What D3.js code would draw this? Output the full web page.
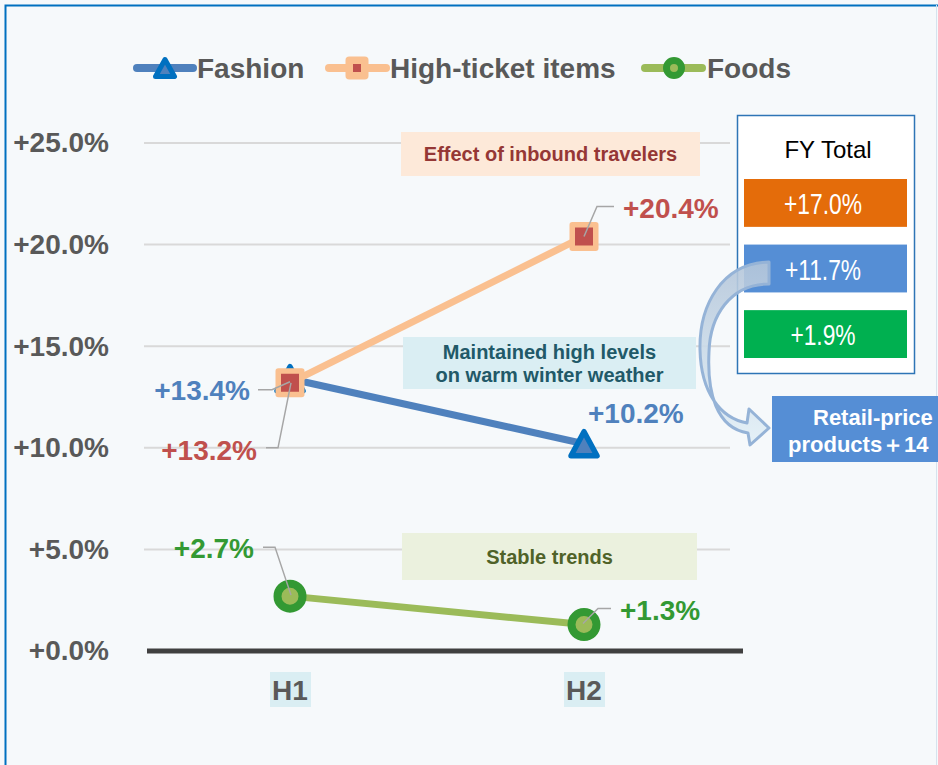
<!DOCTYPE html>
<html>
<head>
<meta charset="utf-8">
<script src="https://cdn.jsdelivr.net/npm/d3@7"></script>
<style>
  body { margin: 0; background: #fff; }
  svg { display: block; }
</style>
</head>
<body>
<div id="chart"></div>
<script>
const periods = ["H1", "H2"];
const fashion = [13.4, 10.2];
const highTicket = [13.2, 20.4];
const foods = [2.7, 1.3];
const yTicks = [0, 5, 10, 15, 20, 25];
const seriesNames = ["Fashion", "High-ticket items", "Foods"];
const fyTotal = [17.0, 11.7, 1.9];
const notes = ["Effect of inbound travelers", "Maintained high levels|on warm winter weather", "Stable trends"];
const retailNote = ["Retail-price", "products\uFF0B14"];

const width = 938, height = 765;
const font = "'Liberation Sans', Arial, sans-serif";
const fmt = d => (d >= 0 ? "+" : "") + d.toFixed(1) + "%";

const y = d3.scaleLinear().domain([0, 25]).range([651, 143]);
const x = d3.scalePoint().domain(periods).range([290, 584]);

const svg = d3.select("#chart").append("svg")
  .attr("width", width)
  .attr("height", height)
  .attr("viewBox", [0, 0, width, height])
  .attr("font-family", font);

// page background and frame
svg.append("rect").attr("width", width).attr("height", height).attr("fill", "#f6f9fb");
svg.append("path").attr("d", "M5.5,765 V5.5 H938").attr("fill", "none").attr("stroke", "#0070c0").attr("stroke-width", 2);
svg.append("line").attr("x1", 936.5).attr("x2", 936.5).attr("y1", 5).attr("y2", 765).attr("stroke", "#d6e3ee").attr("stroke-width", 1);

// gridlines
svg.append("g").selectAll("line")
  .data(yTicks.filter(d => d > 0))
  .join("line")
  .attr("x1", 144).attr("x2", 730)
  .attr("y1", d => y(d)).attr("y2", d => y(d))
  .attr("stroke", "#d9d9d9").attr("stroke-width", 2);

// y axis
const yAxis = g => g
  .attr("transform", "translate(109,0)")
  .call(d3.axisLeft(y).tickValues(yTicks).tickSize(0).tickPadding(0).tickFormat(fmt))
  .call(g => g.select(".domain").remove())
  .attr("font-family", font)
  .call(g => g.selectAll("text")
    .attr("font-size", 28)
    .attr("font-weight", "bold")
    .attr("fill", "#595959"));
svg.append("g").call(yAxis);

// zero line
svg.append("line")
  .attr("x1", 147).attr("x2", 743)
  .attr("y1", y(0)).attr("y2", y(0))
  .attr("stroke", "#404040").attr("stroke-width", 5);

// x labels
const xl = svg.append("g").selectAll("g").data(periods).join("g")
  .attr("transform", d => `translate(${x(d)},690)`);
xl.append("rect").attr("x", -20).attr("y", -18).attr("width", 41).attr("height", 35).attr("fill", "#daeef3");
xl.append("text")
  .attr("text-anchor", "middle").attr("dy", "0.35em")
  .attr("font-size", 28).attr("font-weight", "bold").attr("fill", "#595959")
  .text(d => d);

// annotation boxes
const noteBoxes = [
  {text: notes[0], x: 401, y: 132, w: 299, h: 44, fill: "#fde9d9", color: "#953735"},
  {text: notes[1], x: 403, y: 337, w: 293, h: 52, fill: "#daeef3", color: "#215968"},
  {text: notes[2], x: 402, y: 533, w: 295, h: 47, fill: "#ebf1de", color: "#4f6228"}
];
const nb = svg.append("g").selectAll("g").data(noteBoxes).join("g");
nb.append("rect")
  .attr("x", d => d.x).attr("y", d => d.y).attr("width", d => d.w).attr("height", d => d.h)
  .attr("fill", d => d.fill);
nb.each(function(d) {
  const lines = d.text.split("|");
  const t = d3.select(this).append("text")
    .attr("text-anchor", "middle")
    .attr("font-size", 20).attr("font-weight", "bold").attr("fill", d.color);
  lines.forEach((l, i) => {
    t.append("tspan")
      .attr("x", d.x + d.w / 2)
      .attr("y", d.y + d.h / 2 + 7 + (i - (lines.length - 1) / 2) * 23)
      .text(l);
  });
});

// series
const series = [
  {name: seriesNames[0], values: fashion, line: "#4f81bd", marker: "triangle", fill: "#4f81bd", stroke: "#0070c0", label: "#4f81bd"},
  {name: seriesNames[1], values: highTicket, line: "#fac090", marker: "square", fill: "#c0504d", stroke: "#fac090", label: "#c0504d"},
  {name: seriesNames[2], values: foods, line: "#9bbb59", marker: "circle", fill: "#9bbb59", stroke: "#339933", label: "#339933"}
];

function drawMarker(g, type, fill, stroke, big) {
  if (type === "triangle") {
    const w = big ? 26 : 19, h = big ? 24 : 17;
    g.append("path")
      .attr("d", `M0,${-h / 2}L${w / 2},${h / 2}L${-w / 2},${h / 2}Z`)
      .attr("fill", fill).attr("stroke", stroke)
      .attr("stroke-width", big ? 5.5 : 5).attr("stroke-linejoin", "round");
  } else if (type === "square") {
    const s = big ? 23.5 : 15.5;
    g.append("rect")
      .attr("x", -s / 2).attr("y", -s / 2).attr("width", s).attr("height", s)
      .attr("fill", fill).attr("stroke", stroke)
      .attr("stroke-width", big ? 5.5 : 7.5).attr("stroke-linejoin", "round");
  } else {
    g.append("circle")
      .attr("r", big ? 12.5 : 7.5)
      .attr("fill", fill).attr("stroke", stroke)
      .attr("stroke-width", big ? 8 : 7);
  }
}

const line = d3.line().x((d, i) => x(periods[i])).y(d => y(d));

series.forEach(s => {
  svg.append("path")
    .datum(s.values)
    .attr("fill", "none")
    .attr("stroke", s.line)
    .attr("stroke-width", 7)
    .attr("d", line);
  s.values.forEach((v, i) => {
    const g = svg.append("g").attr("transform", `translate(${x(periods[i])},${y(v)})`);
    drawMarker(g, s.marker, s.fill, s.stroke, true);
  });
});

// data labels with leader lines (offsets relative to the point)
const labelSpecs = [
  {s: 0, i: 0, anchor: "end", dx: -40, dy: 21, leader: [[-32, 11], [-18, 11], [0, 3]]},
  {s: 0, i: 1, anchor: "start", dx: 4, dy: -21, leader: null},
  {s: 1, i: 0, anchor: "end", dx: -33, dy: 77, leader: [[-24, 65], [-12, 65], [1, 0]]},
  {s: 1, i: 1, anchor: "start", dx: 39, dy: -18, leader: [[0, 0], [13, -30], [30, -30]]},
  {s: 2, i: 0, anchor: "end", dx: -36, dy: -38, leader: [[-27, -49], [-15, -49], [1, -1]]},
  {s: 2, i: 1, anchor: "start", dx: 36, dy: -5, leader: [[-1, -1], [14, -16], [27, -16]]}
];
const labels = svg.append("g");
labelSpecs.forEach(l => {
  const s = series[l.s];
  const v = s.values[l.i];
  const px = x(periods[l.i]), py = y(v);
  if (l.leader) {
    labels.append("path")
      .attr("d", d3.line()(l.leader.map(p => [px + p[0], py + p[1]])))
      .attr("fill", "none").attr("stroke", "#a6a6a6").attr("stroke-width", 1.5);
  }
  labels.append("text")
    .attr("x", px + l.dx).attr("y", py + l.dy)
    .attr("text-anchor", l.anchor)
    .attr("font-size", 28).attr("font-weight", "bold")
    .attr("fill", s.label)
    .text(fmt(v));
});

// legend
const legendItems = [
  {x0: 137, x1: 193, m: 165, tx: 197},
  {x0: 329, x1: 386, m: 357, tx: 390},
  {x0: 645, x1: 702, m: 674, tx: 707}
];
const lg = svg.append("g");
series.forEach((s, k) => {
  const it = legendItems[k];
  lg.append("line")
    .attr("x1", it.x0).attr("x2", it.x1).attr("y1", 68).attr("y2", 68)
    .attr("stroke", s.line).attr("stroke-width", 8).attr("stroke-linecap", "round");
  drawMarker(lg.append("g").attr("transform", `translate(${it.m},68)`), s.marker, s.fill, s.stroke, false);
  lg.append("text")
    .attr("x", it.tx).attr("y", 78)
    .attr("font-size", 28).attr("font-weight", "bold").attr("fill", "#595959")
    .text(s.name);
});

// FY total panel
const fy = svg.append("g");
fy.append("rect")
  .attr("x", 737.5).attr("y", 115.5).attr("width", 177).attr("height", 258)
  .attr("fill", "#ffffff").attr("stroke", "#2e75b6").attr("stroke-width", 1.5);
fy.append("text")
  .attr("x", 828).attr("y", 158).attr("text-anchor", "middle")
  .attr("font-size", 24).attr("fill", "#000")
  .text("FY Total");
const fyColors = ["#e46c0a", "#558ed5", "#00b050"];
const fyY = d3.scaleBand().domain(d3.range(fyTotal.length)).range([179, 358]).paddingInner(0.27);
fy.selectAll("g.fyc").data(fyTotal).join("g")
  .attr("class", "fyc")
  .each(function(d, i) {
    const g = d3.select(this);
    g.append("rect")
      .attr("x", 744).attr("y", fyY(i)).attr("width", 163).attr("height", fyY.bandwidth())
      .attr("fill", fyColors[i]);
    // condensed look: squeeze the regular face horizontally
    g.append("text")
      .attr("transform", `translate(823,${fyY(i) + fyY.bandwidth() / 2 + 11}) scale(0.76,1)`)
      .attr("text-anchor", "middle")
      .attr("font-size", 30).attr("fill", "#fff")
      .text(fmt(d));
  });

// retail-price box
svg.append("rect").attr("x", 772).attr("y", 396).attr("width", 180).attr("height", 66).attr("fill", "#558ed5");
svg.append("text").attr("x", 813).attr("y", 425)
  .attr("font-size", 22).attr("font-weight", "bold").attr("fill", "#fff").text(retailNote[0]);
svg.append("text").attr("x", 788).attr("y", 452)
  .attr("font-size", 22).attr("font-weight", "bold").attr("fill", "#fff").text(retailNote[1]);

// curved arrow
const defs = svg.append("defs");
const grad = defs.append("linearGradient").attr("id", "arrowGrad")
  .attr("x1", 0).attr("y1", 0).attr("x2", 0).attr("y2", 1);
grad.append("stop").attr("offset", "0%").attr("stop-color", "#b4c6da");
grad.append("stop").attr("offset", "100%").attr("stop-color", "#e3f0f7");
svg.append("path")
  .attr("d", "M769,262 C722,263 699,305 700,350 C701,392 720,418 747,423 L749,409 L769,428 L750,445 L748,433 C716,428 707,392 709,352 C710,316 730,284 769,284 Z")
  .attr("fill", "url(#arrowGrad)").attr("fill-opacity", 0.9)
  .attr("stroke", "#95b3d7").attr("stroke-width", 3).attr("stroke-linejoin", "round");
</script>
</body>
</html>
